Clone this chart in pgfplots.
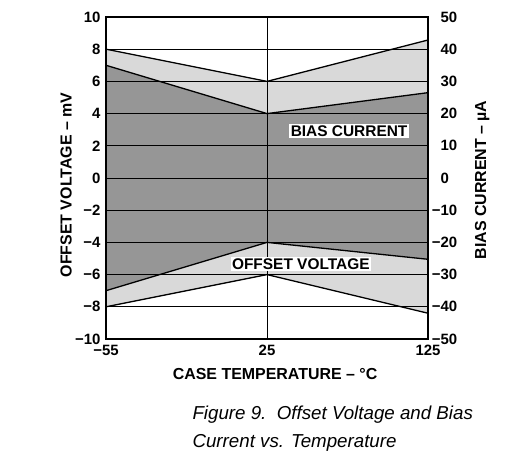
\documentclass[border=0pt]{standalone}
\usepackage{pgfplots}
\pgfplotsset{compat=1.18}
\usepackage{fontspec}
\setmainfont{Liberation Sans}
\definecolor{darkband}{gray}{0.59}
\definecolor{lightband}{gray}{0.85}
\begin{document}
\begin{tikzpicture}[x=1bp,y=1bp]
\useasboundingbox (0,0) rectangle (505,468);
\begin{axis}[
  at={(106bp,129bp)}, anchor=south west,
  scale only axis, width=322bp, height=322bp,
  xmin=0, xmax=2, ymin=-10, ymax=10,
  xtick={0,1,2}, xticklabels={−55,25,125},
  ytick={-10,-8,-6,-4,-2,0,2,4,6,8,10},
  yticklabels={−10,−8,−6,−4,−2,0,2,4,6,8,10},
  grid=major, major grid style={black, line width=0.9bp},
  axis line style={black, line width=1.6bp},
  major tick length=0pt,
  axis on top,
  /pgf/number format/assume math mode=true,
  ticklabel style={font=\fontsize{15}{16}\selectfont\bfseries},
  xticklabel style={yshift=-3bp},
  yticklabel style={xshift=-2bp},
  xlabel={CASE TEMPERATURE – °C},
  ylabel={OFFSET VOLTAGE – mV},
  label style={font=\fontsize{16}{17}\selectfont\bfseries},
  xlabel style={at={(axis description cs:0.525,-0.109)}, anchor=center},
  ylabel style={at={(axis description cs:-0.124,0.478)}, anchor=center},
]
\addplot[fill=darkband, draw=none] coordinates {(0,7) (1,4) (2,5.3) (2,-5.05) (1,-4) (0,-7)} -- cycle;
\addplot[fill=lightband, draw=none] coordinates {(0,8) (1,6) (2,8.57) (2,5.3) (1,4) (0,7)} -- cycle;
\addplot[fill=lightband, draw=none] coordinates {(0,-7) (1,-4) (2,-5.05) (2,-8.4) (1,-6) (0,-8)} -- cycle;
\addplot[black, line width=1.3bp] coordinates {(0,8) (1,6) (2,8.57)};
\addplot[black, line width=1.3bp] coordinates {(0,7) (1,4) (2,5.3)};
\addplot[black, line width=1.3bp] coordinates {(0,-7) (1,-4) (2,-5.05)};
\addplot[black, line width=1.3bp] coordinates {(0,-8) (1,-6) (2,-8.4)};
\end{axis}
\begin{axis}[
  at={(106bp,129bp)}, anchor=south west,
  scale only axis, width=322bp, height=322bp,
  xmin=0, xmax=2, ymin=-50, ymax=50,
  axis x line=none, axis y line*=right,
  axis line style={black, line width=1.6bp},
  major tick length=0pt,
  ytick={-50,-40,-30,-20,-10,0,10,20,30,40,50},
  yticklabels={\llap{−}50,\llap{−}40,\llap{−}30,\llap{−}20,\llap{−}10,0,10,20,30,40,50},
  /pgf/number format/assume math mode=true,
  ticklabel style={font=\fontsize{15}{16}\selectfont\bfseries},
  yticklabel style={xshift=9bp},
  ylabel={BIAS CURRENT – µA},
  label style={font=\fontsize{16}{17}\selectfont\bfseries},
  ylabel style={at={(axis description cs:1.168,0.494)}, anchor=center},
]
\addplot[draw=none] coordinates {(0,0)};
\node[fill=white, inner sep=1.5bp, font=\fontsize{15.5}{16}\selectfont\bfseries] at (axis cs:1.51,14.6) {BIAS CURRENT};
\node[fill=white, inner sep=1.5bp, font=\fontsize{15.5}{16}\selectfont\bfseries] at (axis cs:1.21,-26.7) {OFFSET VOLTAGE};
\end{axis}
\node[anchor=base west, font=\fontsize{18.8}{22}\selectfont\itshape] at (189,48) {Figure 9.\ \ Offset Voltage and Bias};
\node[anchor=base west, font=\fontsize{18.8}{22}\selectfont\itshape] at (189,20) {Current vs. Temperature};
\end{tikzpicture}
\end{document}
